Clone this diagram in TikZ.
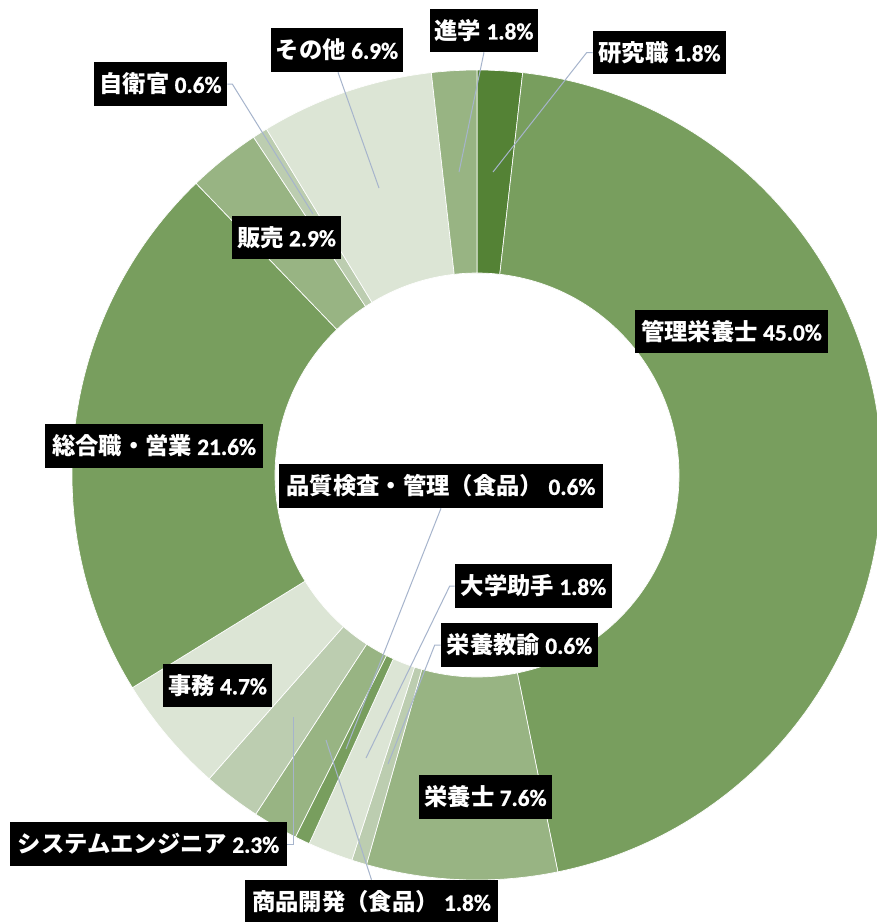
\documentclass[tikz,border=0pt]{standalone}
\usepackage{fontspec}
\setmainfont{Carlito}
\newfontfamily\numfont{Carlito Bold}[FakeBold=1]
\newfontfamily\jpfont{Noto Sans CJK JP}
\definecolor{gA}{RGB}{84,130,53}
\definecolor{gB}{RGB}{120,158,94}
\definecolor{gC}{RGB}{152,180,131}
\definecolor{gD}{RGB}{188,205,176}
\definecolor{gE}{RGB}{220,229,213}
\definecolor{leadc}{RGB}{166,180,204}
\newcommand\lb[2]{{\jpfont\bfseries #1}{\numfont\mdseries\ #2}}
\begin{document}
\begin{tikzpicture}[x=0.75pt,y=-0.75pt,
  lbl/.style={fill=black,text=white,inner sep=0pt,font=\fontsize{17.5pt}{20pt}\selectfont},
  sz/.style 2 args={minimum width=#1*0.75pt,minimum height=#2*0.75pt},
  leader/.style={draw=leadc,line width=0.75pt}]
\useasboundingbox (0,0) rectangle (877,922);
\clip (0,0) rectangle (877,922);
\fill[white] (0,0) rectangle (877,922);
% donut segments (clockwise from top, in percent)
\begin{scope}[shift={(477,475)}]
\foreach \a/\b/\c in {0/1.8/gA, 1.8/46.8/gB, 46.8/54.4/gC, 54.4/55.0/gD, 55.0/56.8/gE,
  56.8/57.4/gB, 57.4/59.2/gC, 59.2/61.5/gD, 61.5/66.2/gE, 66.2/87.8/gB,
  87.8/90.7/gC, 90.7/91.3/gD, 91.3/98.2/gE, 98.2/100/gC}{
  \fill[\c,draw=white,line width=0.5pt]
    ({90-3.6*\a}:303.75pt) arc[start angle={90-3.6*\a}, end angle={90-3.6*\b}, radius=303.75pt]
    -- ({90-3.6*\b}:151.5pt) arc[start angle={90-3.6*\b}, end angle={90-3.6*\a}, radius=151.5pt]
    -- cycle;
}
\end{scope}
% leader end points
\coordinate (p1) at (493,172);
\coordinate (p2) at (459,172);
\coordinate (p3) at (379,188);
\coordinate (p4) at (313,214);
\coordinate (p5) at (346,749);
\coordinate (p6) at (366,758);
\coordinate (p7) at (388,764);
\coordinate (p8) at (293,717);
\coordinate (p9) at (326,740);
% labels
\node[lbl,sz={133}{43}] (yk) at (659.5,52.5) {\lb{研究職}{1.8\%}};
\node[lbl,sz={108}{43}] (sg) at (484,30.5) {\lb{進学}{1.8\%}};
\node[lbl,sz={132}{44}] (so) at (337,50) {\lb{その他}{6.9\%}};
\node[lbl,sz={133}{44}] (jx) at (160.5,84) {\lb{自衛官}{0.6\%}};
\node[lbl,sz={109}{43}] (hb) at (286.5,237.5) {\lb{販売}{2.9\%}};
\node[lbl,sz={193}{43}] (ke) at (731.5,331.5) {\lb{管理栄養士}{45.0\%}};
\node[lbl,sz={218}{44}] (sx) at (154,446) {\lb{総合職・営業}{21.6\%}};
\node[lbl,sz={324}{44}] (hs) at (441,486) {\lb{品質検査・管理（食品）}{0.6\%}};
\node[lbl,sz={157}{44}] (dg) at (533.5,586) {\lb{大学助手}{1.8\%}};
\node[lbl,sz={157}{44}] (ek) at (519.5,645) {\lb{栄養教諭}{0.6\%}};
\node[lbl,sz={109}{43}] (jm) at (217.5,685.5) {\lb{事務}{4.7\%}};
\node[lbl,sz={133}{44}] (es) at (485.5,797) {\lb{栄養士}{7.6\%}};
\node[lbl,sz={277}{44}] (se) at (148.5,844) {\lb{システムエンジニア}{2.3\%}};
\node[lbl,sz={253}{44}] (sk) at (371.5,902) {\lb{商品開発（食品）}{1.8\%}};
% leaders
\draw[leader] (yk.west) -- ++(-6,0) -- (p1);
\draw[leader] (sg.south) -- (p2);
\draw[leader] ([xshift=0.75pt]so.south) -- (p3);
\draw[leader] (jx.east) -- ++(5,0) -- (p4);
\draw[leader] (hs.south) -- (p5);
\draw[leader] (dg.west) -- ++(-5,0) -- (p6);
\draw[leader] (ek.west) -- ++(-6,0) -- (p7);
\draw[leader] (se.east) -- (p8 |- se.east) -- (p8);
\draw[leader] (sk.north) -- (p9);
\end{tikzpicture}
\end{document}
